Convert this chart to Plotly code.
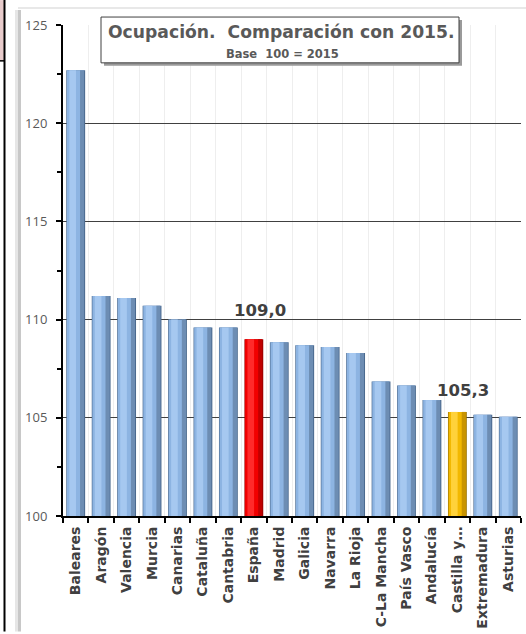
import plotly.graph_objects as go

categories = ["Baleares", "Aragón", "Valencia", "Murcia", "Canarias", "Cataluña",
              "Cantabria", "España", "Madrid", "Galicia", "Navarra", "La Rioja",
              "C-La Mancha", "País Vasco", "Andalucía", "Castilla y…",
              "Extremadura", "Asturias"]
values = [122.7, 111.2, 111.1, 110.7, 110.0, 109.6, 109.6, 109.0, 108.85, 108.7,
          108.6, 108.3, 106.85, 106.65, 105.9, 105.3, 105.15, 105.05]
labelled = {"España": "109,0", "Castilla y…": "105,3"}

title_text = "Ocupación.  Comparación con 2015."
subtitle_text = "Base  100 = 2015"

W, H = 526, 634
L, R, T, B = 63, 5, 25, 116
pw = W - L - R
ph = H - T - B


def px(x):
    return (x - L) / pw


def py(y):
    return (H - B - y) / ph


def colors_for(normal, spain, castilla):
    out = []
    for c in categories:
        if c == "España":
            out.append(spain)
        elif c == "Castilla y…":
            out.append(castilla)
        else:
            out.append(normal)
    return out


layers = [
    (0.74, -0.37, colors_for("#4b6a8f", "#9a0000", "#9c7400")),
    (0.66, -0.345, colors_for("#8db4e2", "#f20000", "#f2b800")),
    (0.26, -0.25, colors_for("#a6c8f0", "#ff2a2a", "#ffd23a")),
    (0.16, 0.17, colors_for("#6d8db3", "#c00000", "#c99400")),
]

fig = go.Figure()
for w, off, cols in layers:
    fig.add_trace(go.Bar(
        x=categories, y=[v - 100 for v in values], base=100,
        width=w, offset=off, marker=dict(color=cols, line=dict(width=0)),
        hoverinfo="skip", showlegend=False))

label_shift = {"España": 17, "Castilla y…": 10}
annotations = []
for c, v in zip(categories, values):
    if c in labelled:
        annotations.append(dict(
            x=c, y=v, xref="x", yref="y", text="<b>" + labelled[c] + "</b>",
            showarrow=False, yanchor="bottom", yshift=label_shift[c], xshift=6,
            font=dict(family="DejaVu Sans", size=16.5, color="#404040")))

annotations.append(dict(
    x=px(281), y=py(32), xref="paper", yref="paper", text="<b>" + title_text + "</b>",
    showarrow=False, xanchor="center", yanchor="middle",
    font=dict(family="DejaVu Sans", size=17.2, color="#595959")))
annotations.append(dict(
    x=px(282), y=py(54), xref="paper", yref="paper", text="<b>" + subtitle_text + "</b>",
    showarrow=False, xanchor="center", yanchor="middle",
    font=dict(family="DejaVu Sans", size=11.5, color="#595959")))

shapes = [
    # pink box top-left
    dict(type="rect", xref="paper", yref="paper", x0=px(0), x1=px(4), y0=py(61), y1=py(0),
         fillcolor="#e8cccc", line=dict(width=0), layer="above"),
    dict(type="line", xref="paper", yref="paper", x0=px(0), x1=px(4.5), y0=py(61), y1=py(61),
         line=dict(color="#000000", width=1.5)),
    dict(type="line", xref="paper", yref="paper", x0=px(4.5), x1=px(4.5), y0=py(0), y1=py(634),
         line=dict(color="#000000", width=2)),
    # card shadow and top edge
    dict(type="rect", xref="paper", yref="paper", x0=px(15), x1=px(18), y0=py(634), y1=py(10),
         fillcolor="#e6e6e6", line=dict(width=0)),
    dict(type="rect", xref="paper", yref="paper", x0=px(18), x1=px(21), y0=py(634), y1=py(10),
         fillcolor="#c8c8c8", line=dict(width=0)),
    dict(type="line", xref="paper", yref="paper", x0=px(18), x1=px(526), y0=py(8), y1=py(8),
         line=dict(color="#e0e0e0", width=1.5)),
    # title box shadow and box
    dict(type="rect", xref="paper", yref="paper", x0=px(104), x1=px(462), y0=py(66), y1=py(20),
         fillcolor="#9a9a9a", line=dict(width=0), layer="above"),
    dict(type="rect", xref="paper", yref="paper", x0=px(101), x1=px(459), y0=py(63), y1=py(17),
         fillcolor="#ffffff", line=dict(color="#404040", width=1), layer="above"),
]

fig.update_layout(
    width=W, height=H,
    margin=dict(l=L, r=R, t=T, b=B),
    paper_bgcolor="#ffffff", plot_bgcolor="#ffffff",
    barmode="overlay", bargap=0.26,
    showlegend=False,
    annotations=annotations,
    shapes=shapes,
    xaxis=dict(
        type="category", tickson="boundaries", ticks="outside", ticklen=5,
        tickcolor="#000000", tickwidth=1.5,
        showline=True, linecolor="#000000", linewidth=2,
        showgrid=True, gridcolor="#eeeeee", gridwidth=1,
        tickangle=-90,
        ticklabelstandoff=3,
        tickfont=dict(family="DejaVu Sans", size=14, color="#404040", weight="bold"),
        fixedrange=True),
    yaxis=dict(
        range=[100, 125], dtick=5, tick0=100, ticks="outside", ticklen=5,
        tickcolor="#000000", tickwidth=1.5,
        showline=True, linecolor="#000000", linewidth=2,
        showgrid=True, gridcolor="#404040", gridwidth=1.1,
        zeroline=False,
        minor=dict(dtick=2.5, ticks="outside", ticklen=4, tickcolor="#000000", showgrid=False),
        tickfont=dict(family="Open Sans", size=13, color="#595959"),
        ticklabelstandoff=6,
        fixedrange=True),
)

fig.write_html("out.html", config={"displayModeBar": False},
               post_script="document.body.style.margin='0';document.body.style.padding='0';")
